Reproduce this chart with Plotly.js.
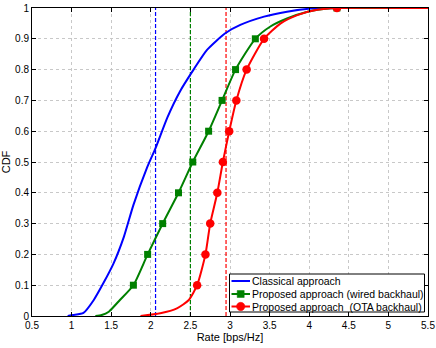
<!DOCTYPE html>
<html>
<head>
<meta charset="utf-8">
<script src="https://cdn.plot.ly/plotly-3.0.1.min.js"></script>
<style>html,body{margin:0;padding:0;background:#fff;}#chart{width:436px;height:348px;}</style>
</head>
<body>
<div id="chart"></div>
<script>
// ---- Data ----
const seriesNames = ["Classical approach", "Proposed approach (wired backhaul)", "Proposed approach  (OTA backhaul)"];

const classicalRate = [0.95, 1.02, 1.15, 1.28, 1.40, 1.53, 1.66, 1.78, 1.95, 2.06, 2.21, 2.37, 2.54, 2.71, 2.94, 3.13, 3.43, 3.72, 4.02, 4.40, 5.50];
const classicalCdf  = [0.0, 0.003, 0.01, 0.052, 0.106, 0.171, 0.257, 0.36, 0.48, 0.545, 0.645, 0.73, 0.80, 0.864, 0.918, 0.945, 0.972, 0.988, 0.998, 1.0, 1.0];

const wiredRate = [1.30, 1.38, 1.47, 1.61, 1.78, 1.96, 2.15, 2.35, 2.53, 2.73, 2.90, 3.07, 3.32, 3.51, 3.72, 3.98, 4.27, 4.35, 5.50];
const wiredCdf  = [0.0, 0.003, 0.014, 0.052, 0.1, 0.2, 0.3, 0.4, 0.5, 0.6, 0.7, 0.8, 0.9, 0.94, 0.966, 0.988, 0.999, 1.0, 1.0];
const wiredMarkerRate = [1.78, 1.96, 2.15, 2.35, 2.53, 2.73, 2.90, 3.07, 3.32, 4.35];
const wiredMarkerCdf  = [0.1, 0.2, 0.3, 0.4, 0.5, 0.6, 0.7, 0.8, 0.9, 1.0];

const otaRate = [1.87, 2.12, 2.33, 2.48, 2.585, 2.69, 2.75, 2.84, 2.91, 2.99, 3.08, 3.21, 3.43, 3.64, 3.85, 4.10, 4.35, 5.50];
const otaCdf  = [0.0, 0.009, 0.025, 0.052, 0.1, 0.2, 0.3, 0.4, 0.5, 0.6, 0.7, 0.8, 0.9, 0.95, 0.977, 0.994, 1.0, 1.0];
const otaMarkerRate = [2.585, 2.69, 2.75, 2.84, 2.91, 2.99, 3.08, 3.21, 3.43, 4.35];
const otaMarkerCdf  = [0.1, 0.2, 0.3, 0.4, 0.5, 0.6, 0.7, 0.8, 0.9, 1.0];

// mean rates (vertical dashed lines)
const meanRates = [2.06, 2.50, 2.95];

const xTickVals = [0.5, 1, 1.5, 2, 2.5, 3, 3.5, 4, 4.5, 5, 5.5];
const yTickVals = [0, 0.1, 0.2, 0.3, 0.4, 0.5, 0.6, 0.7, 0.8, 0.9, 1];

// ---- Styles ----
const colors = ["#0000ff", "#008000", "#ff0000"];
const symbols = [null, "square", "circle"];
const font = "Liberation Sans, Arial, sans-serif";

const traces = [];
meanRates.forEach((v, i) => {
  traces.push({x: [v, v], y: [0, 1], mode: "lines", showlegend: false, hoverinfo: "skip",
    line: {color: colors[i], width: 1.2, dash: "4px,2px"}});
});
traces.push({x: classicalRate, y: classicalCdf, mode: "lines", name: seriesNames[0],
  line: {color: colors[0], width: 2, shape: "spline", smoothing: 0.6}});
traces.push({x: wiredRate, y: wiredCdf, mode: "lines", name: seriesNames[1],
  line: {color: colors[1], width: 2, shape: "spline", smoothing: 0.6}});
traces.push({x: otaRate, y: otaCdf, mode: "lines", name: seriesNames[2],
  line: {color: colors[2], width: 2, shape: "spline", smoothing: 0.6}});
traces.push({x: wiredMarkerRate, y: wiredMarkerCdf, mode: "markers", name: seriesNames[1],
  marker: {color: colors[1], symbol: "square", size: 7}});
traces.push({x: otaMarkerRate, y: otaMarkerCdf, mode: "markers", name: seriesNames[2],
  marker: {color: colors[2], symbol: "circle", size: 8.5}});

// ---- Compact MATLAB-style legend (box, samples, real text) ----
const plotL = 32, plotR = 428, plotT = 8, plotB = 316;
const px = p => (p - plotL) / (plotR - plotL);
const py = p => (plotB - p) / (plotB - plotT);
const rowsY = [281, 294, 306.5];
const shapes = [{type: "rect", xref: "paper", yref: "paper", x0: px(229.5), x1: px(424.5), y0: py(312), y1: py(274),
  fillcolor: "#fff", line: {color: "#000", width: 1}, layer: "above"}];
const annotations = [];
seriesNames.forEach((name, i) => {
  const yy = py(rowsY[i]);
  shapes.push({type: "line", xref: "paper", yref: "paper", x0: px(231.5), x1: px(250), y0: yy, y1: yy,
    line: {color: colors[i], width: 2}, layer: "above"});
  if (symbols[i]) {
    const r = symbols[i] === "square" ? 3.5 : 4.2;
    shapes.push({type: symbols[i] === "square" ? "rect" : "circle", xref: "paper", yref: "paper",
      xsizemode: "pixel", ysizemode: "pixel", xanchor: px(240.7), yanchor: yy,
      x0: -r, x1: r, y0: -r, y1: r, fillcolor: colors[i], line: {color: colors[i], width: 0.5}, layer: "above"});
  }
  annotations.push({xref: "paper", yref: "paper", x: px(251), y: yy, xanchor: "left", yanchor: "middle",
    text: name, showarrow: false, font: {family: font, size: 10.5, color: "#000"}, borderpad: 0});
});

const axisCommon = {
  showline: true, linecolor: "#000", linewidth: 1, mirror: "allticks",
  ticks: "inside", ticklen: 4, tickcolor: "#000", tickwidth: 1,
  showgrid: true, gridcolor: "#c8c8c8", griddash: "dot", gridwidth: 1,
  zeroline: false, tickfont: {family: font, size: 10, color: "#000"}
};

const layout = {
  width: 436, height: 348,
  margin: {l: 32, r: 8, t: 8, b: 32},
  paper_bgcolor: "#fff", plot_bgcolor: "#fff",
  font: {family: font, color: "#000"},
  showlegend: false,
  xaxis: Object.assign({}, axisCommon, {
    range: [0.5, 5.5], tickvals: xTickVals, ticktext: xTickVals.map(String),
    title: {text: "Rate [bps/Hz]", font: {family: font, size: 11, color: "#000"}, standoff: 2}
  }),
  yaxis: Object.assign({}, axisCommon, {
    range: [0, 1], tickvals: yTickVals, ticktext: yTickVals.map(String),
    title: {text: "CDF", font: {family: font, size: 11, color: "#000"}, standoff: 2}
  }),
  shapes: shapes,
  annotations: annotations
};

Plotly.newPlot("chart", traces, layout, {displayModeBar: false, staticPlot: true});
</script>
</body>
</html>
